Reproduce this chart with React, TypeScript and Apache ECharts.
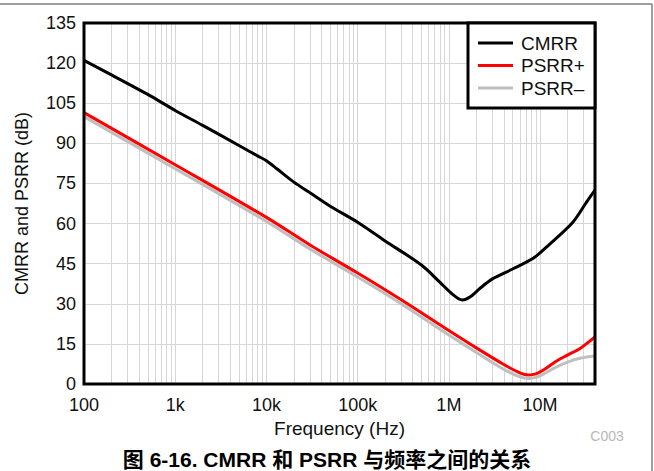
import React, { useEffect, useRef } from "react";
import * as echarts from "echarts";

const cmrrFreq = [100, 200, 500, 1000, 2000, 5000, 8000, 10000, 13000, 20000, 30000, 50000, 100000, 200000, 500000, 800000, 1100000, 1400000, 1700000, 2200000, 3000000, 5000000, 8400000, 12000000, 23000000, 33000000, 40000000];
const cmrrDb = [121, 115.6, 108.3, 102.3, 96.7, 89.2, 85.3, 83.5, 80.5, 75.5, 71.5, 66.5, 60.5, 53.5, 44.5, 38, 33.5, 31.4, 32.5, 35.8, 39.3, 43, 47, 51.5, 60.6, 68.5, 72.5];

const psrrPFreq = [100, 1000, 10000, 30000, 100000, 300000, 1000000, 2000000, 4000000, 6000000, 7500000, 9000000, 11000000, 15000000, 20000000, 28000000, 40000000];
const psrrPDb = [101.5, 82, 62.3, 52, 41.5, 31.5, 20, 13.5, 7.3, 4.2, 3.4, 3.8, 5.3, 8.5, 10.8, 13.5, 17.6];

const psrrMFreq = [100, 1000, 10000, 30000, 100000, 300000, 1000000, 2000000, 4000000, 6000000, 7500000, 9000000, 11000000, 15000000, 20000000, 28000000, 40000000];
const psrrMDb = [100, 80.5, 60.8, 50.5, 40, 30, 18.3, 11.8, 5.5, 2.7, 2.1, 2.5, 3.8, 6.3, 8.2, 9.7, 10.6];

const seriesNames = ["CMRR", "PSRR+", "PSRR\u2013"];
const xTickLabels: Record<number, string> = { 100: "100", 1000: "1k", 10000: "10k", 100000: "100k", 1000000: "1M", 10000000: "10M" };

const X_MIN = 100;
const X_MAX = 40000000;
const Y_MIN = 0;
const Y_MAX = 135;
const Y_STEP = 15;

const FONT = '"Liberation Sans", Arial, "Noto Sans CJK SC", sans-serif';

function zip(f: number[], v: number[]) {
  return f.map((x, i) => [x, v[i]]);
}

function minorGrid(): number[] {
  const out: number[] = [];
  for (let d = 100; d < X_MAX; d *= 10) {
    for (let m = 2; m <= 9; m++) {
      const f = d * m;
      if (f < X_MAX) out.push(f);
    }
  }
  return out;
}

export default function App() {
  const ref = useRef<HTMLDivElement>(null);
  useEffect(() => {
    if (!ref.current) return;
    const chart = echarts.init(ref.current, undefined, { renderer: "svg" });
    chart.setOption({
      animation: false,
      backgroundColor: "#ffffff",
      textStyle: { fontFamily: FONT },
      grid: {
        left: 84,
        top: 23,
        right: 59,
        bottom: 87,
        show: true,
        borderColor: "#000",
        borderWidth: 3,
        backgroundColor: "transparent",
        z: 5,
      },
      legend: {
        data: seriesNames,
        orient: "vertical",
        left: 478,
        top: 33.5,
        padding: 0,
        itemGap: 3.5,
        itemWidth: 35,
        itemHeight: 3,
        icon: "rect",
        textStyle: { fontSize: 19, color: "#111", fontFamily: FONT, padding: [0, 0, 0, 3] },
        z: 20,
      },
      xAxis: {
        type: "log",
        logBase: 10,
        min: X_MIN,
        max: X_MAX,
        name: "Frequency (Hz)",
        nameLocation: "middle",
        nameGap: 27,
        nameTextStyle: { fontSize: 19, color: "#111", fontFamily: FONT },
        axisLine: { show: false },
        axisTick: { show: false },
        axisLabel: {
          fontSize: 18,
          color: "#111",
          margin: 12,
          showMaxLabel: false,
          formatter: (v: number) => xTickLabels[Math.round(v)] ?? "",
        },
        splitLine: { show: true, lineStyle: { color: "#d6d6d6", width: 1 } },
      },
      yAxis: {
        type: "value",
        min: Y_MIN,
        max: Y_MAX,
        interval: Y_STEP,
        name: "CMRR and PSRR (dB)",
        nameLocation: "middle",
        nameGap: 53,
        nameTextStyle: { fontSize: 18, color: "#111", fontFamily: FONT },
        axisLine: { show: false },
        axisTick: { show: false },
        axisLabel: { fontSize: 18, color: "#111", margin: 8 },
        splitLine: { show: true, lineStyle: { color: "#d6d6d6", width: 1 } },
      },
      graphic: [
        { type: "line", shape: { x1: 0, y1: 4, x2: 652, y2: 4 }, style: { stroke: "#7f7f7f", lineWidth: 1.5 }, silent: true },
        { type: "line", shape: { x1: 652, y1: 4, x2: 652, y2: 471 }, style: { stroke: "#7f7f7f", lineWidth: 1.5 }, silent: true },
        {
          type: "rect",
          shape: { x: 468, y: 23, width: 127, height: 85 },
          style: { fill: "#fff", stroke: "#000", lineWidth: 3 },
          z: 10,
          silent: true,
        },
        {
          type: "text",
          x: 607,
          y: 436,
          style: { text: "C003", fill: "#b8b8b8", font: `14px ${FONT}`, align: "center", verticalAlign: "middle" },
          silent: true,
        },
        {
          type: "text",
          x: 327,
          y: 459,
          style: {
            text: "图 6-16. CMRR 和 PSRR 与频率之间的关系",
            fill: "#000",
            font: `bold 21px ${FONT}`,
            align: "center",
            verticalAlign: "middle",
          },
          silent: true,
        },
      ],
      series: [
        {
          name: seriesNames[2],
          type: "line",
          data: zip(psrrMFreq, psrrMDb),
          showSymbol: false,
          symbol: "none",
          smooth: 0.3,
          lineStyle: { color: "#bfbfbf", width: 3 },
          itemStyle: { color: "#bfbfbf" },
          z: 2,
          markLine: {
            silent: true,
            symbol: "none",
            label: { show: false },
            lineStyle: { color: "#d6d6d6", width: 1, type: "solid" },
            data: minorGrid().map((f) => ({ xAxis: f })),
            z: 1,
          },
        },
        {
          name: seriesNames[1],
          type: "line",
          data: zip(psrrPFreq, psrrPDb),
          showSymbol: false,
          symbol: "none",
          smooth: 0.3,
          lineStyle: { color: "#ff0000", width: 3 },
          itemStyle: { color: "#ff0000" },
          z: 3,
        },
        {
          name: seriesNames[0],
          type: "line",
          data: zip(cmrrFreq, cmrrDb),
          showSymbol: false,
          symbol: "none",
          smooth: 0.3,
          lineStyle: { color: "#000000", width: 3 },
          itemStyle: { color: "#000000" },
          z: 4,
        },
      ],
    });
    return () => chart.dispose();
  }, []);
  return (
    <div
      ref={ref}
      style={{ position: "fixed", left: 0, top: 0, width: 654, height: 471, background: "#fff" }}
    />
  );
}
